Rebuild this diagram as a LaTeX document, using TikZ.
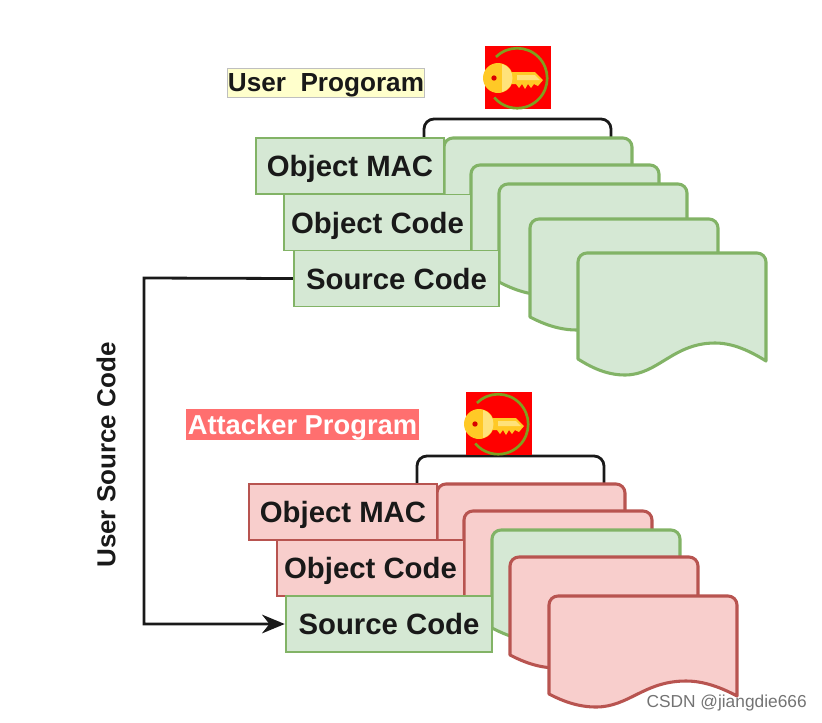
\documentclass[tikz,border=0pt]{standalone}
\usepackage{fontspec}
\setmainfont{Liberation Sans}
\usetikzlibrary{arrows.meta}
\definecolor{gfill}{HTML}{D5E8D4}\definecolor{gline}{HTML}{82B366}
\definecolor{rfill}{HTML}{F8CECC}\definecolor{rline}{HTML}{B85450}
\definecolor{keyy}{HTML}{FFC926}\definecolor{keyl}{HTML}{FFE27A}\definecolor{keyg}{HTML}{7FA01E}
\definecolor{uy}{HTML}{FFFFCC}\definecolor{ar}{HTML}{FF6F6F}
\tikzset{
 docg/.style={draw=gline,fill=gfill,line width=2.3pt,line join=round},
 docr/.style={draw=rline,fill=rfill,line width=2.3pt,line join=round},
 lab/.style={anchor=center,minimum height=42pt,inner sep=0pt,text depth=0pt,font=\bfseries\fontsize{22}{24}\selectfont,text=black!90,line width=1.4pt},
 labg/.style={lab,draw=gline,fill=gfill},
 labr/.style={lab,draw=rline,fill=rfill},
 bracket/.style={draw=black!90,line width=2.1pt,rounded corners=7.5pt},
 flow/.style={draw=black!90,line width=2.1pt,-{Stealth[length=17pt,width=14pt]}}
}
% x, y, height, amplitude, style
\newcommand{\docshape}[5]{%
 \path[#5,shift={(#1,#2)}] (0,#3) -- (0,9) arc[start angle=180,end angle=90,radius=6.75pt] -- (179,0)
  arc[start angle=90,end angle=0,radius=6.75pt] -- (188,#3+2)
  .. controls (172,#3-0.5*#4) and (155,#3-#4) .. (137,#3-#4)
  .. controls (95,#3-#4) and (80,#3+#4) .. (47,#3+#4)
  .. controls (30,#3+#4) and (15,#3+0.6*#4) .. (0,#3) -- cycle;}
\newcommand{\keyicon}[2]{%
 \begin{scope}[shift={(#1,#2)}]
  \fill[red] (0,0) rectangle (66,63);
  \draw[keyg,line width=2pt] (11,11) arc[start angle=135,end angle=-140,radius=22.5pt];
  \fill[keyy] (13,32) circle[radius=11.25pt];
  \fill[keyy] (24,26) -- (50,26) -- (58,34) -- (53,40) -- (49,38) -- (46,42) -- (43,38) -- (40,43) -- (37,38) -- (34,42) -- (31,38) -- (24,38) -- cycle;
  \fill[keyl] (17,18) .. controls (31,22) and (31,42) .. (17,46) -- cycle;
  \fill[keyl] (32,29) -- (50,29) -- (55,34) -- (32,34) -- cycle;
  \fill[red!85!black] (9,32) circle[radius=2pt];
 \end{scope}}
\begin{document}
\begin{tikzpicture}[x=0.75pt,y=-0.75pt]
\useasboundingbox (0,0) rectangle (822,722);
% Upper group
\coordinate (ua) at (424,139); \coordinate (ub) at (611,139);
\draw[bracket] (ua) -- (424,119) -- (611,119) -- (ub);
\docshape{444}{138}{98}{13}{docg}
\docshape{471}{165}{98}{13}{docg}
\docshape{499}{184}{98}{13}{docg}
\docshape{530}{219}{98}{13}{docg}
\docshape{578}{253}{106}{16}{docg}
\node[labg,minimum width=141pt] (umac) at (350,166) {Object MAC};
\node[labg,minimum width=140.5pt] (ucode) at (377.5,222.5) {Object Code};
\node[labg,minimum width=154pt] (usrc) at (396.5,278.5) {Source Code};
\node[draw=black!25,fill=uy,line width=0.6pt,minimum width=148pt,minimum height=22pt,inner sep=0pt,text depth=0pt,font=\bfseries\fontsize{19.6}{22}\selectfont,text=black!90] (utitle) at (326,83) {User\ \ Progoram};
\keyicon{485}{46}
% Lower group
\coordinate (la) at (417,485); \coordinate (lb) at (604,485);
\draw[bracket] (la) -- (417,456) -- (604,456) -- (lb);
\docshape{437}{484}{98}{13}{docr}
\docshape{464}{511}{98}{13}{docr}
\docshape{492}{530}{98}{13}{docg}
\docshape{510}{557}{98}{13}{docr}
\docshape{549}{596}{98}{13}{docr}
\node[labr,minimum width=141pt] (lmac) at (343,512) {Object MAC};
\node[labr,minimum width=140.5pt] (lcode) at (370.5,568) {Object Code};
\node[labg,minimum width=155pt] (lsrc) at (389,624) {Source Code};
\node[fill=ar,minimum width=175pt,minimum height=23pt,inner sep=0pt,text depth=0pt,font=\bfseries\fontsize{20.5}{22}\selectfont,text=white] (ltitle) at (302.5,424.5) {Attacker Program};
\keyicon{466}{392}
% Connector
\coordinate (c1) at (144,278); \coordinate (c2) at (144,624);
\draw[flow] (usrc.west) -- (c1) -- (c2) -- (lsrc.west);
\node[rotate=90,inner sep=0pt,font=\bfseries\fontsize{19.5}{21}\selectfont,text=black!90] (ulabel) at (106,455) {User Source Code};
\node[inner sep=0pt,anchor=east,font=\fontsize{13}{15}\selectfont,text=black!55] (wm) at (807,703) {CSDN @jiangdie666};
\end{tikzpicture}
\end{document}
